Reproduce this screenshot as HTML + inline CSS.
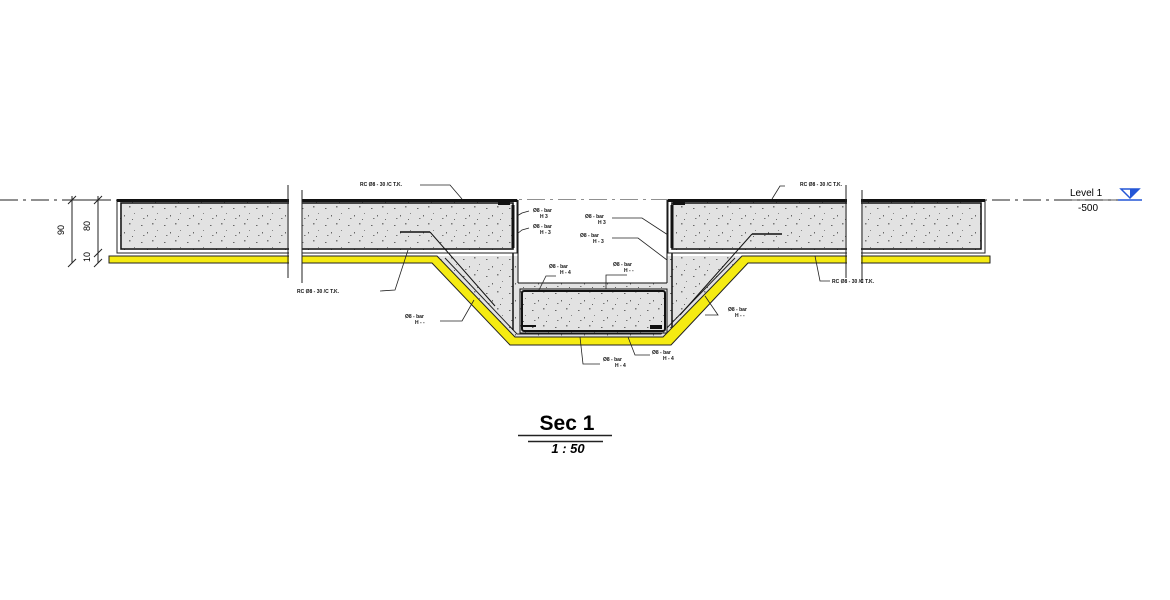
<!DOCTYPE html>
<html><head><meta charset="utf-8"><style>
html,body{margin:0;padding:0;background:#fff;}
svg{display:block;}
.t{font-family:"Liberation Sans",sans-serif;font-size:5px;font-weight:bold;fill:#111;}
</style></head><body>
<svg width="1170" height="600" viewBox="0 0 1170 600" xmlns="http://www.w3.org/2000/svg">
<defs>
<pattern id="spk" width="23" height="17" patternUnits="userSpaceOnUse">
<rect width="23" height="17" fill="#e2e2e2"/>
<rect x="3" y="4" width="1.5" height="1" fill="#666"/>
<rect x="14" y="2" width="1.5" height="1.5" fill="#777"/>
<rect x="9" y="11" width="1" height="1.5" fill="#666"/>
<rect x="19" y="9" width="1" height="1" fill="#888"/>
<rect x="5" y="14" width="1.5" height="1" fill="#777"/>
<rect x="17" y="15" width="1" height="1" fill="#666"/>
</pattern>
</defs>

<line x1="0" y1="200" x2="1130" y2="200" stroke="#222" stroke-width="1" stroke-dasharray="18,5,3,5"/>

<polygon points="437,256 742,256 663,337 515,337" fill="url(#spk)"/>
<polyline points="445,258 517,334 661,334 735,258" fill="none" stroke="#222" stroke-width="1"/>
<rect x="518" y="200" width="149" height="83" fill="#fff"/>
<line x1="513" y1="200" x2="513" y2="330" stroke="#111" stroke-width="1.5"/>
<line x1="518" y1="200" x2="518" y2="283" stroke="#111" stroke-width="1"/>
<line x1="667" y1="200" x2="667" y2="283" stroke="#111" stroke-width="1"/>
<line x1="672" y1="200" x2="672" y2="330" stroke="#111" stroke-width="1.5"/>
<line x1="518" y1="283" x2="667" y2="283" stroke="#111" stroke-width="1"/>
<rect x="520" y="289" width="147" height="44" fill="url(#spk)" stroke="#111" stroke-width="1"/>
<rect x="522" y="291" width="143" height="40" rx="2" fill="none" stroke="#111" stroke-width="2"/>
<line x1="523" y1="326" x2="536" y2="326" stroke="#111" stroke-width="2"/>
<rect x="650" y="325" width="12" height="4" fill="#111"/>

<polygon points="109,256 437,256 515,337 663,337 742,256 990,256 990,263 748,263 671,345 510,345 432,263 109,263" fill="#f5eb12" stroke="#222" stroke-width="1"/>

<rect x="117" y="200" width="400" height="53" fill="#fff" stroke="#222" stroke-width="1"/>
<rect x="120" y="202" width="394" height="48" fill="url(#spk)"/>
<line x1="117" y1="200.5" x2="517" y2="200.5" stroke="#111" stroke-width="3"/>
<rect x="121" y="203" width="392" height="46" fill="none" stroke="#111" stroke-width="1.5"/>
<line x1="513" y1="205" x2="513" y2="248" stroke="#111" stroke-width="3"/>
<rect x="498" y="201" width="12" height="4" fill="#111"/>
<line x1="400" y1="232" x2="430" y2="232" stroke="#111" stroke-width="1.5"/>
<line x1="430" y1="232" x2="495" y2="306" stroke="#111" stroke-width="1"/>

<rect x="668" y="200" width="317" height="53" fill="#fff" stroke="#222" stroke-width="1"/>
<rect x="671" y="202" width="311" height="48" fill="url(#spk)"/>
<line x1="668" y1="200.5" x2="985" y2="200.5" stroke="#111" stroke-width="3"/>
<rect x="672" y="203" width="309" height="46" fill="none" stroke="#111" stroke-width="1.5"/>
<line x1="672" y1="205" x2="672" y2="248" stroke="#111" stroke-width="3"/>
<rect x="673" y="201" width="12" height="4" fill="#111"/>
<line x1="752" y1="234" x2="782" y2="234" stroke="#111" stroke-width="1.5"/>
<line x1="752" y1="234" x2="680" y2="315" stroke="#111" stroke-width="1"/>

<rect x="289" y="185" width="13" height="96" fill="#fff"/>
<line x1="288" y1="185" x2="288" y2="278" stroke="#222" stroke-width="1"/>
<line x1="302" y1="190" x2="302" y2="283" stroke="#222" stroke-width="1"/>
<rect x="847" y="185" width="14" height="96" fill="#fff"/>
<line x1="846" y1="185" x2="846" y2="278" stroke="#222" stroke-width="1"/>
<line x1="862" y1="190" x2="862" y2="283" stroke="#222" stroke-width="1"/>

<g stroke="#222" stroke-width="1">
<line x1="72" y1="196" x2="72" y2="263"/>
<line x1="98" y1="196" x2="98" y2="263"/>
<line x1="68" y1="204" x2="76" y2="196"/><line x1="68" y1="267" x2="76" y2="259"/>
<line x1="94" y1="204" x2="102" y2="196"/><line x1="94" y1="257" x2="102" y2="249"/><line x1="94" y1="267" x2="102" y2="259"/>
<line x1="65" y1="200" x2="110" y2="200"/>
</g>
<text x="64" y="230" font-family="Liberation Sans,sans-serif" font-size="9" transform="rotate(-90 64 230)" text-anchor="middle">90</text>
<text x="90" y="226" font-family="Liberation Sans,sans-serif" font-size="9" transform="rotate(-90 90 226)" text-anchor="middle">80</text>
<text x="90" y="257" font-family="Liberation Sans,sans-serif" font-size="9" transform="rotate(-90 90 257)" text-anchor="middle">10</text>

<g fill="none" stroke="#222" stroke-width="0.8">
<polyline points="420,185 450,185 462,199"/>
<polyline points="380,291 395,290 408,250"/>
<polyline points="440,321 462,321 474,300"/>
<polyline points="529,211 522,213 517,216"/>
<polyline points="529,228 522,230 517,234"/>
<polyline points="612,218 642,218 668,235"/>
<polyline points="612,238 638,238 667,260"/>
<polyline points="556,276 546,276 539,290"/>
<polyline points="627,275 606,275 606,289"/>
<polyline points="705,315 718,315 705,296"/>
<polyline points="600,364 583,364 580,337"/>
<polyline points="650,355 635,355 628,337"/>
<polyline points="785,186 780,186 772,199"/>
<polyline points="830,281 820,281 815,256"/>
</g>
<text class="t" x="360" y="186">RC Ø8 - 30 /C T.K.</text>
<text class="t" x="297" y="293">RC Ø8 - 30 /C T.K.</text>
<text class="t" x="405" y="318">Ø8 - bar</text><text class="t" x="415" y="324">H - -</text>
<text class="t" x="533" y="212">Ø8 - bar</text><text class="t" x="540" y="218">H 3</text>
<text class="t" x="533" y="228">Ø8 - bar</text><text class="t" x="540" y="234">H - 3</text>
<text class="t" x="585" y="218">Ø8 - bar</text><text class="t" x="598" y="224">H 3</text>
<text class="t" x="580" y="237">Ø8 - bar</text><text class="t" x="593" y="243">H - 3</text>
<text class="t" x="549" y="268">Ø8 - bar</text><text class="t" x="560" y="274">H - 4</text>
<text class="t" x="613" y="266">Ø8 - bar</text><text class="t" x="624" y="272">H - -</text>
<text class="t" x="728" y="311">Ø8 - bar</text><text class="t" x="735" y="317">H - -</text>
<text class="t" x="603" y="361">Ø8 - bar</text><text class="t" x="615" y="367">H - 4</text>
<text class="t" x="652" y="354">Ø8 - bar</text><text class="t" x="663" y="360">H - 4</text>
<text class="t" x="800" y="186">RC Ø8 - 30 /C T.K.</text>
<text class="t" x="832" y="283">RC Ø8 - 30 /C T.K.</text>

<line x1="1068" y1="200" x2="1140" y2="200" stroke="#222" stroke-width="0.8"/>
<text x="1070" y="196" font-family="Liberation Sans,sans-serif" font-size="10">Level 1</text>
<text x="1078" y="211" font-family="Liberation Sans,sans-serif" font-size="10">-500</text>
<polygon points="1121,189 1139,189 1130,198" fill="none" stroke="#2456d6" stroke-width="1.5"/>
<polygon points="1130,189 1139,189 1130,198" fill="#2456d6"/>
<line x1="1118" y1="200" x2="1142" y2="200" stroke="#2456d6" stroke-width="1.5"/>

<text x="567" y="430" text-anchor="middle" font-family="Liberation Sans,sans-serif" font-size="21" font-weight="bold">Sec 1</text>
<line x1="518" y1="435.5" x2="612" y2="435.5" stroke="#222" stroke-width="1.5"/>
<line x1="528" y1="441.5" x2="603" y2="441.5" stroke="#222" stroke-width="1.5"/>
<text x="568" y="453" text-anchor="middle" font-family="Liberation Sans,sans-serif" font-size="13" font-weight="bold" font-style="italic">1 : 50</text>
</svg>
</body></html>
